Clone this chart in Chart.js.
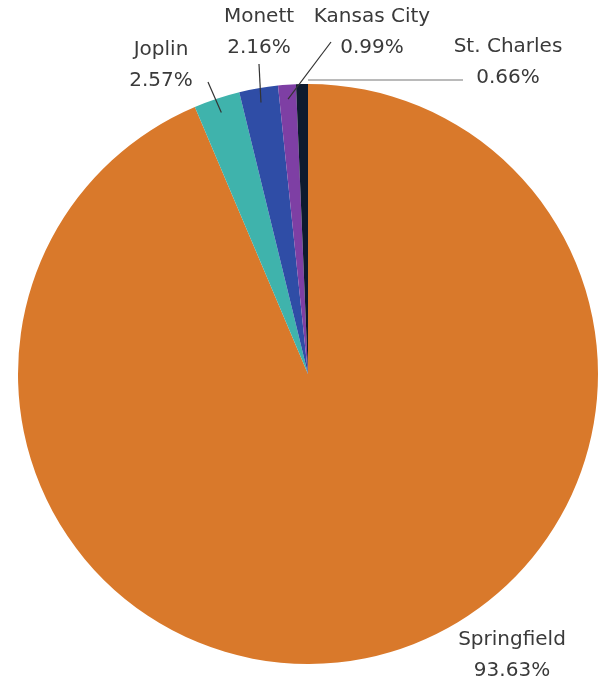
<!DOCTYPE html>
<html>
<head>
<meta charset="utf-8">
<script src="https://cdn.jsdelivr.net/npm/chart.js@4"></script>
<style>
  html, body { margin: 0; padding: 0; background: #fff; }
  #wrap { width: 602px; height: 689px; }
</style>
</head>
<body>
<div id="wrap"><canvas id="pieChart" width="602" height="689"></canvas></div>
<script>
const cities = ['Springfield', 'Joplin', 'Monett', 'Kansas City', 'St. Charles'];
const shares = [93.63, 2.57, 2.16, 0.99, 0.66];
const sliceColors = ['#D9792B', '#3FB3AC', '#2F4DA6', '#7E3FA4', '#0D1A2E'];

// where each label sits (text centre, line end); null line = no leader
const labelSpots = [
    { x: 512, y: 640, lx: null, ly: null },
    { x: 161, y: 50, lx: 208, ly: 82 },
    { x: 259, y: 17, lx: 259, ly: 64 },
    { x: 372, y: 17, lx: 331, ly: 42 },
    { x: 508, y: 47, lx: 463, ly: 80 }
];

// Plugin to draw the outside labels with leader lines
const outsideLabels = {
    id: 'outsideLabels',
    afterDatasetsDraw(chart) {
        const ctx = chart.ctx;
        const arcs = chart.getDatasetMeta(0).data;
        ctx.save();
        arcs.forEach((arc, i) => {
            const spot = labelSpots[i];
            const mid = (arc.startAngle + arc.endAngle) / 2;
            if (spot.lx !== null) {
                let r = arc.outerRadius * 0.95;
                let sx = arc.x + Math.cos(mid) * r;
                let sy = arc.y + Math.sin(mid) * r;
                ctx.strokeStyle = i === 4 ? '#777' : '#333';
                ctx.lineWidth = 1.2;
                ctx.beginPath();
                if (i === 4) {
                    // St. Charles leader runs flat along the top
                    ctx.moveTo(arc.x, spot.ly);
                } else {
                    ctx.moveTo(sx, sy);
                }
                ctx.lineTo(spot.lx, spot.ly);
                ctx.stroke();
            }
            ctx.fillStyle = '#3a3a3a';
            ctx.font = '20px "DejaVu Sans"';
            ctx.textAlign = 'center';
            ctx.textBaseline = 'middle';
            ctx.fillText(cities[i], spot.x, spot.y);
            ctx.fillText(shares[i].toFixed(2) + '%', spot.x, spot.y + 31);
        });
        ctx.restore();
    }
};

const ctx = document.getElementById('pieChart').getContext('2d');
const pieChart = new Chart(ctx, {
    type: 'pie',
    data: {
        labels: cities,
        datasets: [{
            data: shares,
            backgroundColor: sliceColors,
            borderWidth: 0
        }]
    },
    options: {
        responsive: false,
        animation: false,
        layout: { padding: { left: 18, right: 4, top: 83, bottom: 24 } },
        plugins: {
            legend: { display: false },
            tooltip: { enabled: false }
        }
    },
    plugins: [outsideLabels]
});
</script>
</body>
</html>
